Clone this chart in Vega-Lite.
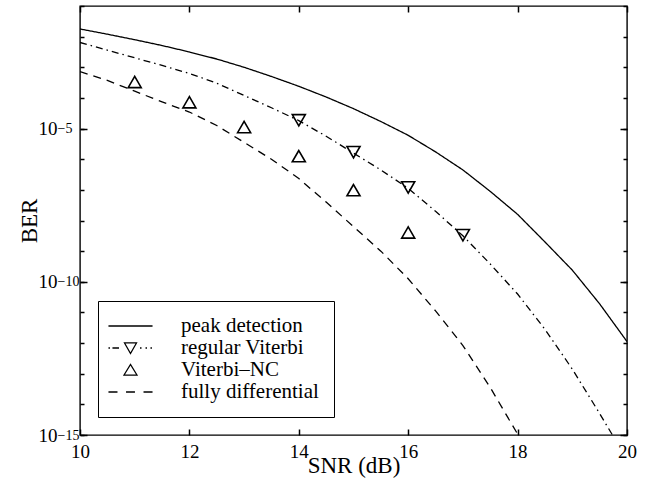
{
  "$schema": "https://vega.github.io/schema/vega-lite/v6.json",
  "width": 547,
  "height": 429,
  "autosize": {"type": "none"},
  "padding": {"left": 80, "top": 6, "right": 19, "bottom": 49},
  "background": "white",
  "datasets": {
    "curves": [
      {"snr": 10, "ber": 1.778e-2, "series": "peak detection"},
      {"snr": 10.5, "ber": 1.202e-2, "series": "peak detection"},
      {"snr": 11, "ber": 7.943e-3, "series": "peak detection"},
      {"snr": 11.5, "ber": 5.129e-3, "series": "peak detection"},
      {"snr": 12, "ber": 3.162e-3, "series": "peak detection"},
      {"snr": 12.5, "ber": 1.862e-3, "series": "peak detection"},
      {"snr": 13, "ber": 1.0e-3, "series": "peak detection"},
      {"snr": 13.5, "ber": 5.012e-4, "series": "peak detection"},
      {"snr": 14, "ber": 2.399e-4, "series": "peak detection"},
      {"snr": 14.5, "ber": 1.072e-4, "series": "peak detection"},
      {"snr": 15, "ber": 4.467e-5, "series": "peak detection"},
      {"snr": 15.5, "ber": 1.698e-5, "series": "peak detection"},
      {"snr": 16, "ber": 6.026e-6, "series": "peak detection"},
      {"snr": 16.5, "ber": 1.738e-6, "series": "peak detection"},
      {"snr": 17, "ber": 4.467e-7, "series": "peak detection"},
      {"snr": 17.5, "ber": 8.913e-8, "series": "peak detection"},
      {"snr": 18, "ber": 1.585e-8, "series": "peak detection"},
      {"snr": 18.5, "ber": 1.995e-9, "series": "peak detection"},
      {"snr": 19, "ber": 2.399e-10, "series": "peak detection"},
      {"snr": 19.5, "ber": 1.905e-11, "series": "peak detection"},
      {"snr": 20, "ber": 1.122e-12, "series": "peak detection"},
      {"snr": 10, "ber": 6.457e-3, "series": "regular Viterbi"},
      {"snr": 10.5, "ber": 3.631e-3, "series": "regular Viterbi"},
      {"snr": 11, "ber": 2.042e-3, "series": "regular Viterbi"},
      {"snr": 11.5, "ber": 1.148e-3, "series": "regular Viterbi"},
      {"snr": 12, "ber": 6.310e-4, "series": "regular Viterbi"},
      {"snr": 12.5, "ber": 3.020e-4, "series": "regular Viterbi"},
      {"snr": 13, "ber": 1.202e-4, "series": "regular Viterbi"},
      {"snr": 13.5, "ber": 4.786e-5, "series": "regular Viterbi"},
      {"snr": 14, "ber": 1.820e-5, "series": "regular Viterbi"},
      {"snr": 14.5, "ber": 5.623e-6, "series": "regular Viterbi"},
      {"snr": 15, "ber": 1.585e-6, "series": "regular Viterbi"},
      {"snr": 15.5, "ber": 4.467e-7, "series": "regular Viterbi"},
      {"snr": 16, "ber": 1.122e-7, "series": "regular Viterbi"},
      {"snr": 16.5, "ber": 1.995e-8, "series": "regular Viterbi"},
      {"snr": 17, "ber": 3.162e-9, "series": "regular Viterbi"},
      {"snr": 17.5, "ber": 3.802e-10, "series": "regular Viterbi"},
      {"snr": 18, "ber": 3.981e-11, "series": "regular Viterbi"},
      {"snr": 18.5, "ber": 2.818e-12, "series": "regular Viterbi"},
      {"snr": 19, "ber": 1.413e-13, "series": "regular Viterbi"},
      {"snr": 19.5, "ber": 5.012e-15, "series": "regular Viterbi"},
      {"snr": 19.74, "ber": 9.550e-16, "series": "regular Viterbi"},
      {"snr": 20, "ber": 1.585e-16, "series": "regular Viterbi"},
      {"snr": 10, "ber": 7.244e-4, "series": "fully differential"},
      {"snr": 10.5, "ber": 3.715e-4, "series": "fully differential"},
      {"snr": 11, "ber": 1.660e-4, "series": "fully differential"},
      {"snr": 11.5, "ber": 7.413e-5, "series": "fully differential"},
      {"snr": 12, "ber": 3.467e-5, "series": "fully differential"},
      {"snr": 12.5, "ber": 1.259e-5, "series": "fully differential"},
      {"snr": 13, "ber": 3.548e-6, "series": "fully differential"},
      {"snr": 13.5, "ber": 1.0e-6, "series": "fully differential"},
      {"snr": 14, "ber": 2.344e-7, "series": "fully differential"},
      {"snr": 14.5, "ber": 3.981e-8, "series": "fully differential"},
      {"snr": 15, "ber": 6.310e-9, "series": "fully differential"},
      {"snr": 15.5, "ber": 1.0e-9, "series": "fully differential"},
      {"snr": 16, "ber": 1.259e-10, "series": "fully differential"},
      {"snr": 16.5, "ber": 1.122e-11, "series": "fully differential"},
      {"snr": 17, "ber": 8.318e-13, "series": "fully differential"},
      {"snr": 17.5, "ber": 3.548e-14, "series": "fully differential"},
      {"snr": 18, "ber": 1.072e-15, "series": "fully differential"},
      {"snr": 18.2, "ber": 2.512e-16, "series": "fully differential"}
    ],
    "markers": [
      {"snr": 14, "ber": 1.862e-5, "series": "regular Viterbi"},
      {"snr": 15, "ber": 1.698e-6, "series": "regular Viterbi"},
      {"snr": 16, "ber": 1.202e-7, "series": "regular Viterbi"},
      {"snr": 17, "ber": 3.311e-9, "series": "regular Viterbi"},
      {"snr": 11, "ber": 3.311e-4, "series": "Viterbi–NC"},
      {"snr": 12, "ber": 7.244e-5, "series": "Viterbi–NC"},
      {"snr": 13, "ber": 1.122e-5, "series": "Viterbi–NC"},
      {"snr": 14, "ber": 1.259e-6, "series": "Viterbi–NC"},
      {"snr": 15, "ber": 9.772e-8, "series": "Viterbi–NC"},
      {"snr": 16, "ber": 4.074e-9, "series": "Viterbi–NC"}
    ]
  },
  "layer": [
    {
      "data": {"name": "curves"},
      "mark": {"type": "line", "color": "black", "strokeWidth": 1.3, "clip": true},
      "encoding": {
        "x": {"field": "snr", "type": "quantitative",
          "scale": {"domain": [10, 20], "nice": false, "zero": false},
          "axis": {"orient": "bottom", "values": [10, 12, 14, 16, 18, 20], "ticks": false, "domain": false, "grid": false,
            "labelPadding": 7, "labelFontSize": 19, "labelFlush": false, "title": null}},
        "y": {"field": "ber", "type": "quantitative",
          "scale": {"type": "log", "domain": [1e-15, 0.1], "nice": false},
          "axis": {"orient": "left", "values": [1e-15, 1e-10, 1e-5], "labelExpr": "'10'", "ticks": false, "domain": false, "grid": false,
            "labelAlign": "left", "labelPadding": 42, "labelBaseline": "middle", "labelFontSize": 19, "labelFlush": false, "labelOverlap": false, "title": null}},
        "strokeDash": {"field": "series", "type": "nominal",
          "scale": {"domain": ["peak detection", "regular Viterbi", "fully differential"], "range": [[1, 0], [7, 4, 1.5, 4], [8, 6]]},
          "legend": null}
      }
    },
    {
      "data": {"name": "markers"},
      "mark": {"type": "point", "filled": false, "color": "black", "strokeWidth": 1.6, "size": 170, "opacity": 1},
      "encoding": {
        "x": {"field": "snr", "type": "quantitative",
          "scale": {"domain": [10, 20], "nice": false, "zero": false},
          "axis": {"orient": "bottom", "values": [10, 12, 14, 16, 18, 20], "tickSize": -6, "tickColor": "black", "tickWidth": 1.5,
            "labels": false, "domain": false, "grid": false,
            "title": "SNR (dB)", "titlePadding": 19, "titleFontSize": 23}},
        "y": {"field": "ber", "type": "quantitative",
          "scale": {"type": "log", "domain": [1e-15, 0.1], "nice": false},
          "axis": {"orient": "left", "values": [1e-15, 1e-10, 1e-5],
            "labelExpr": "datum.value < 1e-12 ? '−15' : (datum.value < 1e-7 ? '−10' : '−5')",
            "ticks": false, "domain": false, "grid": false, "labelAlign": "left", "labelPadding": 23, "labelBaseline": "middle",
            "labelDy": -8, "labelFontSize": 14, "labelFlush": false, "labelOverlap": false, "title": null}},
        "shape": {"field": "series", "type": "nominal",
          "scale": {"domain": ["regular Viterbi", "Viterbi–NC"], "range": ["triangle-down", "triangle-up"]},
          "legend": null}
      }
    },
    {
      "data": {"name": "markers"},
      "mark": {"type": "point", "filled": false, "color": "black", "size": 0, "opacity": 0},
      "encoding": {
        "x": {"field": "snr", "type": "quantitative",
          "scale": {"domain": [10, 20], "nice": false, "zero": false},
          "axis": {"orient": "top", "values": [10, 12, 14, 16, 18, 20], "tickSize": -6, "tickColor": "black", "tickWidth": 1.5,
            "labels": false, "domain": false, "grid": false, "title": null}},
        "y": {"field": "ber", "type": "quantitative",
          "scale": {"type": "log", "domain": [1e-15, 0.1], "nice": false},
          "axis": {"orient": "left", "values": [1e-15, 1e-14, 1e-13, 1e-12, 1e-11, 1e-10, 1e-9, 1e-8, 1e-7, 1e-6, 1e-5, 1e-4, 1e-3, 1e-2, 1e-1],
            "tickSize": -4, "tickColor": "black", "tickWidth": 1.5, "labels": false, "domain": false, "grid": false,
            "title": "BER", "titlePadding": 38, "titleFontSize": 23}},
        "shape": {"field": "series", "type": "nominal",
          "scale": {"domain": ["peak detection", "regular Viterbi", "Viterbi–NC", "fully differential"],
            "range": ["M-2.32,0H2.32",
              "M-2.32,0H-2.16M-1.9,0H-1.21M-0.63,-0.53H0.63L0,0.58ZM1.0,0H1.16M1.58,0H1.74M2.1,0H2.26",
              "M-0.68,0.53H0.68L0,-0.58Z",
              "M-2.32,0H-1.37M-0.47,0H0.47M1.37,0H2.32"]},
          "legend": {"orient": "bottom-left", "offset": 18, "title": null, "strokeColor": "black", "fillColor": "white",
            "padding": 14.5, "symbolSize": 361, "symbolStrokeWidth": 1.3, "symbolStrokeColor": "black", "symbolFillColor": "transparent",
            "symbolOpacity": 1, "symbolOffset": 7.5, "labelOffset": 40, "rowPadding": 0,
            "labelFont": "Liberation Serif", "labelFontSize": 21, "labelColor": "black", "labelLimit": 400}}
      }
    },
    {
      "data": {"name": "markers"},
      "mark": {"type": "point", "size": 0, "opacity": 0},
      "encoding": {
        "x": {"field": "snr", "type": "quantitative", "scale": {"domain": [10, 20], "nice": false, "zero": false}, "axis": null},
        "y": {"field": "ber", "type": "quantitative",
          "scale": {"type": "log", "domain": [1e-15, 0.1], "nice": false},
          "axis": {"orient": "left", "values": [1e-15, 1e-10, 1e-5], "tickSize": -7, "tickColor": "black", "tickWidth": 1.5,
            "labels": false, "domain": false, "grid": false, "title": null}}
      }
    },
    {
      "data": {"name": "markers"},
      "mark": {"type": "point", "size": 0, "opacity": 0},
      "encoding": {
        "x": {"field": "snr", "type": "quantitative", "scale": {"domain": [10, 20], "nice": false, "zero": false}, "axis": null},
        "y": {"field": "ber", "type": "quantitative",
          "scale": {"type": "log", "domain": [1e-15, 0.1], "nice": false},
          "axis": {"orient": "right", "values": [1e-15, 1e-14, 1e-13, 1e-12, 1e-11, 1e-10, 1e-9, 1e-8, 1e-7, 1e-6, 1e-5, 1e-4, 1e-3, 1e-2, 1e-1],
            "tickSize": -4, "tickColor": "black", "tickWidth": 1.5, "labels": false, "domain": false, "grid": false, "title": null}}
      }
    },
    {
      "data": {"name": "markers"},
      "mark": {"type": "point", "size": 0, "opacity": 0},
      "encoding": {
        "x": {"field": "snr", "type": "quantitative", "scale": {"domain": [10, 20], "nice": false, "zero": false}, "axis": null},
        "y": {"field": "ber", "type": "quantitative",
          "scale": {"type": "log", "domain": [1e-15, 0.1], "nice": false},
          "axis": {"orient": "right", "values": [1e-15, 1e-10, 1e-5], "tickSize": -7, "tickColor": "black", "tickWidth": 1.5,
            "labels": false, "domain": false, "grid": false, "title": null}}
      }
    }
  ],
  "resolve": {
    "scale": {"shape": "independent"},
    "legend": {"shape": "independent"},
    "axis": {"x": "independent", "y": "independent"}
  },
  "config": {
    "view": {"stroke": "black", "strokeWidth": 1.4},
    "font": "Liberation Serif",
    "axis": {"labelFont": "Liberation Serif", "titleFont": "Liberation Serif", "labelColor": "black", "titleColor": "black",
      "titleFontWeight": "normal"}
  }
}
